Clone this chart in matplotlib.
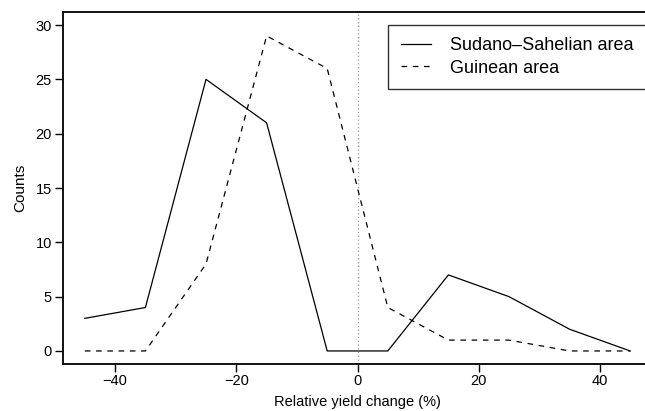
import matplotlib
matplotlib.use("Agg")
import matplotlib.pyplot as plt

plt.rcParams['font.family'] = ['Liberation Sans', 'DejaVu Sans']

# bin centres of relative yield change (%)
yield_change = [-45, -35, -25, -15, -5, 5, 15, 25, 35, 45]
sudano_sahelian = [3, 4, 25, 21, 0, 0, 7, 5, 2, 0]
guinean = [0, 0, 8, 29, 26, 4, 1, 1, 0, 0]

x_ticks = [-40, -20, 0, 20, 40]
y_ticks = [0, 5, 10, 15, 20, 25, 30]

W, H = 645, 411
fig = plt.figure(figsize=(W / 100, H / 100), dpi=100)
# plot region: left 63px, top 12px, bottom 364px, right edge cut off by the figure
ax = fig.add_axes([63 / W, 1 - 364 / H, 589 / W, 352 / H])

ax.plot(yield_change, sudano_sahelian, color='black', lw=0.9, label='Sudano\u2013Sahelian area')
ax.plot(yield_change, guinean, color='black', lw=0.9, dashes=(4.5, 4.5), label='Guinean area')
ax.axvline(0, color='#999999', lw=0.9, ls=(0, (1, 2)), zorder=0)

ax.set_xlim(-48.6, 48.6)
ax.set_ylim(-1.2, 31.2)
ax.set_xticks(x_ticks)
ax.set_xticklabels(['\u2212' + str(-t) if t < 0 else str(t) for t in x_ticks])
ax.set_yticks(y_ticks)
ax.tick_params(direction='out', length=6, width=1, labelsize=10.5)
ax.tick_params(axis='x', pad=1.5)
ax.tick_params(axis='y', pad=2)
for s in ax.spines.values():
    s.set_linewidth(1.3)

ax.set_xlabel('Relative yield change (%)', fontsize=10.5, labelpad=5)
ax.set_ylabel('Counts', fontsize=11, labelpad=6)

leg = ax.legend(loc='upper left', bbox_to_anchor=(0.552, 0.964), borderaxespad=0,
                fontsize=13, frameon=True, fancybox=False, handlelength=1.7,
                handletextpad=1.0, borderpad=0.7, labelspacing=0.3)
leg.get_frame().set_edgecolor('black')
leg.get_frame().set_linewidth(1.0)

fig.savefig('out.png', dpi=100)
